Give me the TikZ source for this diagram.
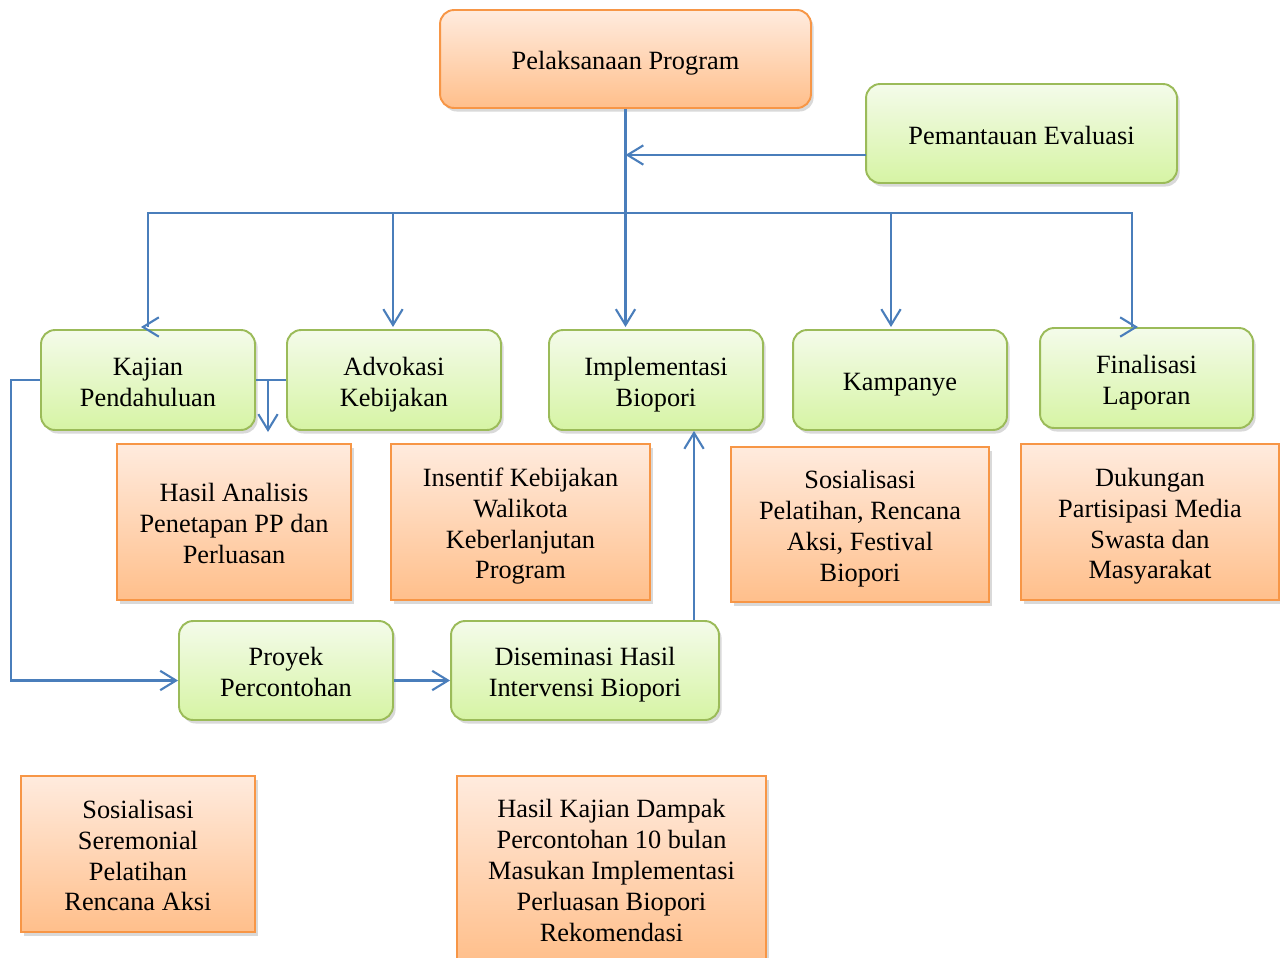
\documentclass[tikz,border=0pt]{standalone}
\usepackage{fontspec}
\setmainfont{Liberation Serif}
\usetikzlibrary{arrows.meta,calc,shadows}
\definecolor{lnk}{HTML}{4A7EBB}
\definecolor{grn}{HTML}{9BBB59}
\definecolor{grnA}{HTML}{F4FBEA}
\definecolor{grnB}{HTML}{D6F4A4}
\definecolor{org}{HTML}{F79646}
\definecolor{orgA}{HTML}{FFEBDE}
\definecolor{orgB}{HTML}{FFBF8B}
\newcommand{\topstrut}{\rule{0pt}{16pt}}
\newcommand{\botstrut}{\rule[-4pt]{0pt}{4pt}}
\tikzset{
  base/.style={font=\fontsize{15}{17.6}\selectfont,align=center,inner sep=2pt,line width=1.1pt,
    execute at begin node=\topstrut,execute at end node=\botstrut,
    drop shadow={opacity=0.3,shadow xshift=1.5pt,shadow yshift=-2pt}},
  gbox/.style={base,draw=grn,top color=grnA,bottom color=grnB,rounded corners=8pt},
  obox/.style={base,draw=org,top color=orgA,bottom color=orgB},
  pbox/.style={obox,rounded corners=8pt},
  line/.style={lnk,line width=1.2pt},
  arr/.style={line,-{Straight Barb[length=9pt,width=11pt]}},
}
\begin{document}
\begin{tikzpicture}[x=0.02cm,y=-0.02cm]
\useasboundingbox (0,0) rectangle (1280,957);
% top row
\node[pbox,minimum width=7.42cm,minimum height=1.96cm] (pr) at (625.5,59) {Pelaksanaan Program};
\node[gbox,minimum width=6.22cm,minimum height=1.98cm] (pe) at (1021.5,133.5) {Pemantauan Evaluasi};
% activities
\node[gbox,minimum width=4.28cm,minimum height=2cm] (kj) at (148,380) {\topstrut Kajian\\Pendahuluan};
\node[gbox,minimum width=4.28cm,minimum height=2cm] (ad) at (394,380) {\topstrut Advokasi\\Kebijakan};
\node[gbox,minimum width=4.28cm,minimum height=2cm] (im) at (656,380) {\topstrut Implementasi\\Biopori};
\node[gbox,minimum width=4.28cm,minimum height=2cm] (ka) at (900,380) {Kampanye};
\node[gbox,minimum width=4.26cm,minimum height=2cm] (fn) at (1146.5,378) {\topstrut Finalisasi\\Laporan};
% outputs
\node[obox,minimum width=4.68cm,minimum height=3.12cm] (ha) at (234,522) {\topstrut Hasil Analisis\\Penetapan PP dan\\Perluasan};
\node[obox,minimum width=5.18cm,minimum height=3.12cm] (ik) at (520.5,522) {\topstrut Insentif Kebijakan\\Walikota\\Keberlanjutan\\Program};
\node[obox,minimum width=5.16cm,minimum height=3.1cm] (sp) at (860,524.5) {\topstrut Sosialisasi\\Pelatihan, Rencana\\Aksi, Festival\\Biopori};
\node[obox,minimum width=5.16cm,minimum height=3.12cm] (dk) at (1150,522) {\topstrut Dukungan\\Partisipasi Media\\Swasta dan\\Masyarakat};
% pilot
\node[gbox,minimum width=4.28cm,minimum height=1.98cm] (pp) at (286,670.5) {\topstrut Proyek\\Percontohan};
\node[gbox,minimum width=5.36cm,minimum height=1.98cm] (ds) at (585,670.5) {\topstrut Diseminasi Hasil\\Intervensi Biopori};
\node[obox,minimum width=4.68cm,minimum height=3.12cm] (ss) at (138,854) {\topstrut Sosialisasi\\Seremonial\\Pelatihan\\Rencana Aksi};
\node[obox,minimum width=6.18cm,minimum height=3.72cm] (hk) at (611.5,869) {\topstrut Hasil Kajian Dampak\\Percontohan 10 bulan\\Masukan Implementasi\\Perluasan Biopori\\Rekomendasi};
% connectors
\coordinate (busL) at (148,213);
\coordinate (busR) at (1132,213);
\coordinate (pe-w) at (866,155);
\draw[arr] (pr.south) -- (pr.south |- 0,327);
\draw[arr] (pe-w) -- (pe-w -| pr.south);
\draw[line] (busL |- 0,327) -- (busL) -- (busR) -- (busR |- 0,327);
\draw[arr] (142,327) -- (141,327);
\draw[arr] (1137,327) -- (1138,327);
\foreach \x in {393,891}{\draw[arr] (\x,213) -- (\x,327);}
\draw[line] (kj.east) -- (ad.west);
\coordinate (ha-in) at (268,432);
\draw[arr] (kj.east -| ha-in) -- (ha-in);
\draw[arr] (kj.west) -- ++(-29,0) |- ($(pp.west)+(0,10)$);
\draw[arr] ($(pp.east)+(0,10)$) -- ($(ds.west)+(0,10)$);
\draw[arr] (ds.north -| 694,0) -- (im.south -| 694,0);
\end{tikzpicture}
\end{document}
